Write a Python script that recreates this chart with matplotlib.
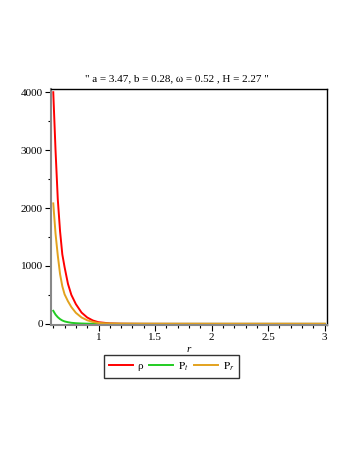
import matplotlib
matplotlib.use("Agg")
import matplotlib.pyplot as plt
from matplotlib.ticker import MultipleLocator

plt.rcParams['font.family'] = ['Liberation Serif', 'DejaVu Serif']
plt.rcParams['mathtext.fontset'] = 'stix'

# values
r = [0.60, 0.62, 0.64, 0.66, 0.68, 0.70, 0.73, 0.76, 0.80, 0.85,
     0.90, 0.95, 1.00, 1.10, 1.20, 1.40, 1.70, 2.00, 2.50, 3.00]
rho = [4000, 3000, 2150, 1600, 1200, 980, 690, 500, 340, 195,
       110, 58, 28, 8, 3, 1, 0.3, 0.1, 0, 0]
p_t = [225, 160, 115, 82, 58, 42, 28, 18, 11, 6,
       3, 2, 1, 0.3, 0.1, 0, 0, 0, 0, 0]
p_r = [2080, 1560, 1180, 860, 650, 510, 390, 290, 190, 110,
       62, 33, 15, 5, 2, 0.6, 0.2, 0.1, 0, 0]

title = '" a = 3.47, b = 0.28, \u03c9 = 0.52 , H = 2.27 "'
xticks = [1, 1.5, 2, 2.5, 3]
xticklabels = ['1', '1.5', '2', '2.5', '3']
yticks = [0, 1000, 2000, 3000, 4000]

W, H = 354, 458
fig = plt.figure(figsize=(W / 100, H / 100), dpi=100)
ax = fig.add_axes([51 / W, 1 - 325 / H, 276 / W, 236 / H])

ax.plot(r, rho, color='#ff0000', lw=1.4, label='\u03c1')
ax.plot(r, p_t, color='#22cc22', lw=1.4, label=r'$\mathrm{P}_t$')
ax.plot(r, p_r, color='#e3a21e', lw=1.4, label=r'$\mathrm{P}_r$')

ax.set_xlim(0.58, 3.02)
ax.set_ylim(-20, 4055)
ax.set_xticks(xticks)
ax.set_xticklabels(xticklabels)
ax.set_yticks(yticks)
ax.xaxis.set_minor_locator(MultipleLocator(0.1))
ax.yaxis.set_minor_locator(MultipleLocator(500))
ax.tick_params(axis='both', which='major', direction='out', length=4,
               width=0.8, labelsize=8, pad=2)
ax.tick_params(axis='both', which='minor', direction='out', length=2.5, width=0.8)

for side in ('left', 'bottom'):
    ax.spines[side].set_color('#888888')
    ax.spines[side].set_linewidth(1.5)
for side in ('top', 'right'):
    ax.spines[side].set_color('black')
    ax.spines[side].set_linewidth(1.0)

ax.set_xlabel('r', fontstyle='italic', fontsize=8, labelpad=2)

fig.text(176.5 / W, 1 - 79 / H, title, ha='center', va='center', fontsize=8)

leg = fig.legend(loc='center', bbox_to_anchor=(171.5 / W, 1 - 366.5 / H), ncol=3,
                 fontsize=8, frameon=True, fancybox=False, edgecolor='black',
                 handlelength=2.2, handletextpad=0.4, columnspacing=0.5,
                 borderpad=0.45, borderaxespad=0)
leg.get_frame().set_linewidth(1.0)

fig.savefig('out.png', dpi=100)
